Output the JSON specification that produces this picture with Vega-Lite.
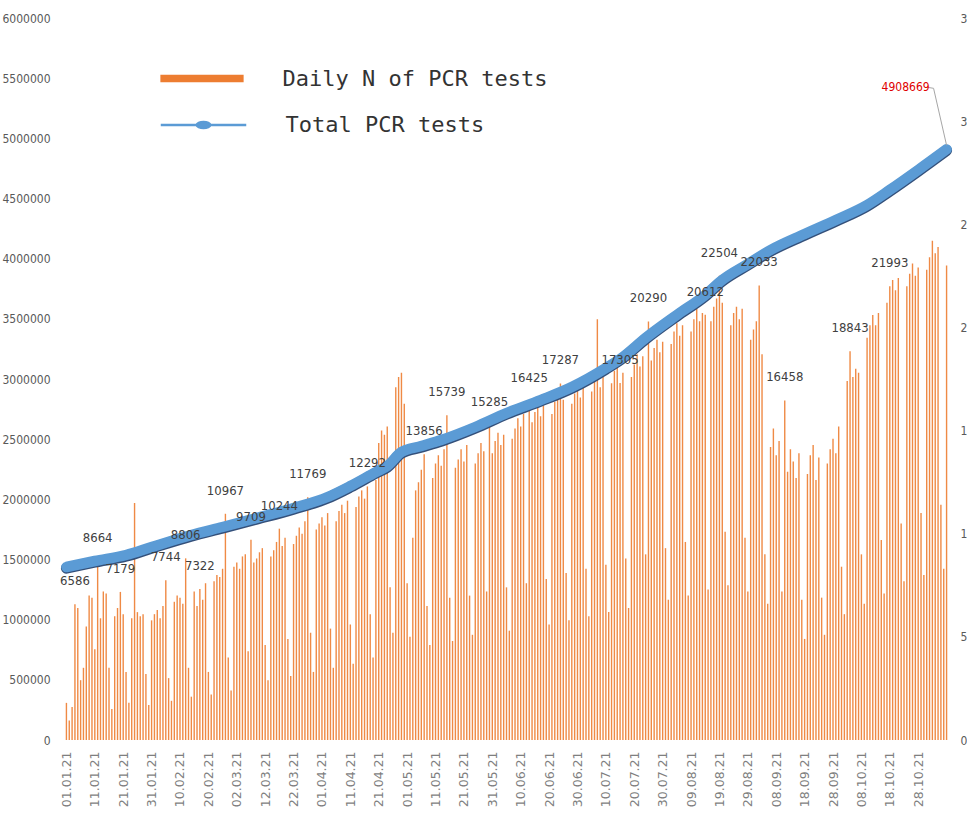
{
  "$schema": "https://vega.github.io/schema/vega-lite/v6.json",
  "width": 893,
  "height": 722,
  "autosize": "none",
  "padding": {"left": 60, "top": 18, "right": 14, "bottom": 89},
  "background": "white",
  "config": {
    "view": {"stroke": null},
    "axis": {"grid": false, "domain": false, "ticks": false, "labelColor": "#595959", "labelFont": "DejaVu Sans Condensed", "labelFontSize": 12, "title": null},
    "legend": {"orient": "none", "title": null, "padding": 0, "rowPadding": 0, "symbolSize": 2025, "labelOffset": 58, "labelFont": "DejaVu Sans Mono", "labelFontSize": 22, "labelColor": "#333333", "labelLimit": 700}
  },
  "datasets": {
    "daily": [
      {"d":"2021-01-01","v":1800},{"d":"2021-01-02","v":950},{"d":"2021-01-03","v":1600},{"d":"2021-01-04","v":6586,"lab":1},{"d":"2021-01-05","v":6400},{"d":"2021-01-06","v":2900},{"d":"2021-01-07","v":3500},{"d":"2021-01-08","v":5500},{"d":"2021-01-09","v":7000},{"d":"2021-01-10","v":6900},
      {"d":"2021-01-11","v":4400},{"d":"2021-01-12","v":8664,"lab":1},{"d":"2021-01-13","v":5900},{"d":"2021-01-14","v":7200},{"d":"2021-01-15","v":7100},{"d":"2021-01-16","v":3500},{"d":"2021-01-17","v":1500},{"d":"2021-01-18","v":6000},{"d":"2021-01-19","v":6400},{"d":"2021-01-20","v":7179,"lab":1},
      {"d":"2021-01-21","v":6100},{"d":"2021-01-22","v":3300},{"d":"2021-01-23","v":1800},{"d":"2021-01-24","v":5900},{"d":"2021-01-25","v":11490},{"d":"2021-01-26","v":6200},{"d":"2021-01-27","v":6000},{"d":"2021-01-28","v":6100},{"d":"2021-01-29","v":3200},{"d":"2021-01-30","v":1700},
      {"d":"2021-01-31","v":5800},
      {"d":"2021-02-01","v":6100},{"d":"2021-02-02","v":6300},{"d":"2021-02-03","v":5900},{"d":"2021-02-04","v":6500},{"d":"2021-02-05","v":7744,"lab":1},{"d":"2021-02-06","v":3000},{"d":"2021-02-07","v":1900},{"d":"2021-02-08","v":6700},{"d":"2021-02-09","v":7000},
      {"d":"2021-02-10","v":6900},{"d":"2021-02-11","v":6600},{"d":"2021-02-12","v":8806,"lab":1},{"d":"2021-02-13","v":3500},{"d":"2021-02-14","v":2100},{"d":"2021-02-15","v":7200},{"d":"2021-02-16","v":6500},{"d":"2021-02-17","v":7322,"lab":1},{"d":"2021-02-18","v":6800},{"d":"2021-02-19","v":7600},
      {"d":"2021-02-20","v":3300},{"d":"2021-02-21","v":2200},{"d":"2021-02-22","v":7700},{"d":"2021-02-23","v":8000},{"d":"2021-02-24","v":7900},{"d":"2021-02-25","v":8300},{"d":"2021-02-26","v":10967,"lab":1},{"d":"2021-02-27","v":4000},{"d":"2021-02-28","v":2400},
      {"d":"2021-03-01","v":8400},{"d":"2021-03-02","v":8600},{"d":"2021-03-03","v":8300},{"d":"2021-03-04","v":8900},{"d":"2021-03-05","v":9000},{"d":"2021-03-06","v":4300},{"d":"2021-03-07","v":9709,"lab":1},{"d":"2021-03-08","v":8600},{"d":"2021-03-09","v":8800},{"d":"2021-03-10","v":9100},
      {"d":"2021-03-11","v":9300},{"d":"2021-03-12","v":4600},{"d":"2021-03-13","v":2900},{"d":"2021-03-14","v":8900},{"d":"2021-03-15","v":9200},{"d":"2021-03-16","v":9600},{"d":"2021-03-17","v":10244,"lab":1},{"d":"2021-03-18","v":9400},{"d":"2021-03-19","v":9800},{"d":"2021-03-20","v":4900},
      {"d":"2021-03-21","v":3100},{"d":"2021-03-22","v":9500},{"d":"2021-03-23","v":9900},{"d":"2021-03-24","v":10300},{"d":"2021-03-25","v":10000},{"d":"2021-03-26","v":10600},{"d":"2021-03-27","v":11769,"lab":1},{"d":"2021-03-28","v":5200},{"d":"2021-03-29","v":3300},{"d":"2021-03-30","v":10200},{"d":"2021-03-31","v":10500},
      {"d":"2021-04-01","v":10800},{"d":"2021-04-02","v":10400},{"d":"2021-04-03","v":11000},{"d":"2021-04-04","v":5400},{"d":"2021-04-05","v":3500},{"d":"2021-04-06","v":10600},{"d":"2021-04-07","v":11100},{"d":"2021-04-08","v":11400},{"d":"2021-04-09","v":11000},{"d":"2021-04-10","v":11600},
      {"d":"2021-04-11","v":5600},{"d":"2021-04-12","v":3700},{"d":"2021-04-13","v":11300},{"d":"2021-04-14","v":11800},{"d":"2021-04-15","v":12100},{"d":"2021-04-16","v":11700},{"d":"2021-04-17","v":12292,"lab":1},{"d":"2021-04-18","v":6100},{"d":"2021-04-19","v":4000},{"d":"2021-04-20","v":12600},
      {"d":"2021-04-21","v":14400},{"d":"2021-04-22","v":15000},{"d":"2021-04-23","v":14800},{"d":"2021-04-24","v":15200},{"d":"2021-04-25","v":7400},{"d":"2021-04-26","v":5200},{"d":"2021-04-27","v":17100},{"d":"2021-04-28","v":17600},{"d":"2021-04-29","v":17800},{"d":"2021-04-30","v":16300},
      {"d":"2021-05-01","v":7600},{"d":"2021-05-02","v":5000},{"d":"2021-05-03","v":9800},{"d":"2021-05-04","v":12100},{"d":"2021-05-05","v":12500},{"d":"2021-05-06","v":13100},{"d":"2021-05-07","v":13856,"lab":1},{"d":"2021-05-08","v":6500},{"d":"2021-05-09","v":4600},{"d":"2021-05-10","v":12700},
      {"d":"2021-05-11","v":13400},{"d":"2021-05-12","v":13800},{"d":"2021-05-13","v":13300},{"d":"2021-05-14","v":14100},{"d":"2021-05-15","v":15739,"lab":1},{"d":"2021-05-16","v":6900},{"d":"2021-05-17","v":4800},{"d":"2021-05-18","v":13200},{"d":"2021-05-19","v":13600},{"d":"2021-05-20","v":14100},
      {"d":"2021-05-21","v":13500},{"d":"2021-05-22","v":14300},{"d":"2021-05-23","v":7000},{"d":"2021-05-24","v":5100},{"d":"2021-05-25","v":13400},{"d":"2021-05-26","v":13900},{"d":"2021-05-27","v":14400},{"d":"2021-05-28","v":14000},{"d":"2021-05-29","v":7200},{"d":"2021-05-30","v":15285,"lab":1},{"d":"2021-05-31","v":13900},
      {"d":"2021-06-01","v":14500},{"d":"2021-06-02","v":14900},{"d":"2021-06-03","v":14300},{"d":"2021-06-04","v":14800},{"d":"2021-06-05","v":7400},{"d":"2021-06-06","v":5300},{"d":"2021-06-07","v":14600},{"d":"2021-06-08","v":15100},{"d":"2021-06-09","v":15600},{"d":"2021-06-10","v":15200},
      {"d":"2021-06-11","v":15800},{"d":"2021-06-12","v":7600},{"d":"2021-06-13","v":16425,"lab":1},{"d":"2021-06-14","v":15400},{"d":"2021-06-15","v":15900},{"d":"2021-06-16","v":16300},{"d":"2021-06-17","v":15700},{"d":"2021-06-18","v":16200},{"d":"2021-06-19","v":7800},{"d":"2021-06-20","v":5600},
      {"d":"2021-06-21","v":15800},{"d":"2021-06-22","v":16400},{"d":"2021-06-23","v":16900},{"d":"2021-06-24","v":17287,"lab":1},{"d":"2021-06-25","v":16500},{"d":"2021-06-26","v":8100},{"d":"2021-06-27","v":5800},{"d":"2021-06-28","v":16300},{"d":"2021-06-29","v":16800},{"d":"2021-06-30","v":17200},
      {"d":"2021-07-01","v":16600},{"d":"2021-07-02","v":17100},{"d":"2021-07-03","v":8300},{"d":"2021-07-04","v":6000},{"d":"2021-07-05","v":16900},{"d":"2021-07-06","v":17500},{"d":"2021-07-07","v":20400},{"d":"2021-07-08","v":17100},{"d":"2021-07-09","v":17600},{"d":"2021-07-10","v":8500},
      {"d":"2021-07-11","v":6200},{"d":"2021-07-12","v":17300},{"d":"2021-07-13","v":17900},{"d":"2021-07-14","v":18300},{"d":"2021-07-15","v":17305,"lab":1},{"d":"2021-07-16","v":17800},{"d":"2021-07-17","v":8800},{"d":"2021-07-18","v":6400},{"d":"2021-07-19","v":17600},{"d":"2021-07-20","v":18200},
      {"d":"2021-07-21","v":18700},{"d":"2021-07-22","v":18100},{"d":"2021-07-23","v":18600},{"d":"2021-07-24","v":9000},{"d":"2021-07-25","v":20290,"lab":1},{"d":"2021-07-26","v":18400},{"d":"2021-07-27","v":19000},{"d":"2021-07-28","v":19400},{"d":"2021-07-29","v":18800},{"d":"2021-07-30","v":19300},{"d":"2021-07-31","v":9300},
      {"d":"2021-08-01","v":6800},{"d":"2021-08-02","v":19200},{"d":"2021-08-03","v":19800},{"d":"2021-08-04","v":20200},{"d":"2021-08-05","v":19600},{"d":"2021-08-06","v":20100},{"d":"2021-08-07","v":9600},{"d":"2021-08-08","v":7000},{"d":"2021-08-09","v":19800},{"d":"2021-08-10","v":20400},
      {"d":"2021-08-11","v":20900},{"d":"2021-08-12","v":20300},{"d":"2021-08-13","v":20700},{"d":"2021-08-14","v":20612,"lab":1},{"d":"2021-08-15","v":7300},{"d":"2021-08-16","v":20300},{"d":"2021-08-17","v":21000},{"d":"2021-08-18","v":21400},{"d":"2021-08-19","v":22504,"lab":1},{"d":"2021-08-20","v":21200},
      {"d":"2021-08-21","v":10100},{"d":"2021-08-22","v":7500},{"d":"2021-08-23","v":20100},{"d":"2021-08-24","v":20700},{"d":"2021-08-25","v":21000},{"d":"2021-08-26","v":20400},{"d":"2021-08-27","v":20900},{"d":"2021-08-28","v":9800},{"d":"2021-08-29","v":7200},{"d":"2021-08-30","v":19400},{"d":"2021-08-31","v":19900},
      {"d":"2021-09-01","v":20300},{"d":"2021-09-02","v":22033,"lab":1},{"d":"2021-09-03","v":18700},{"d":"2021-09-04","v":9000},{"d":"2021-09-05","v":6600},{"d":"2021-09-06","v":14200},{"d":"2021-09-07","v":15100},{"d":"2021-09-08","v":13800},{"d":"2021-09-09","v":14500},{"d":"2021-09-10","v":7200},
      {"d":"2021-09-11","v":16458,"lab":1},{"d":"2021-09-12","v":13000},{"d":"2021-09-13","v":14100},{"d":"2021-09-14","v":13500},{"d":"2021-09-15","v":12700},{"d":"2021-09-16","v":13900},{"d":"2021-09-17","v":6800},{"d":"2021-09-18","v":4900},{"d":"2021-09-19","v":12900},{"d":"2021-09-20","v":13800},
      {"d":"2021-09-21","v":14300},{"d":"2021-09-22","v":12600},{"d":"2021-09-23","v":13700},{"d":"2021-09-24","v":6900},{"d":"2021-09-25","v":5100},{"d":"2021-09-26","v":13400},{"d":"2021-09-27","v":14100},{"d":"2021-09-28","v":14600},{"d":"2021-09-29","v":13900},{"d":"2021-09-30","v":15200},
      {"d":"2021-10-01","v":8400},{"d":"2021-10-02","v":6100},{"d":"2021-10-03","v":17400},{"d":"2021-10-04","v":18843,"lab":1},{"d":"2021-10-05","v":17600},{"d":"2021-10-06","v":18000},{"d":"2021-10-07","v":17800},{"d":"2021-10-08","v":9000},{"d":"2021-10-09","v":6600},{"d":"2021-10-10","v":19500},
      {"d":"2021-10-11","v":20100},{"d":"2021-10-12","v":20600},{"d":"2021-10-13","v":20100},{"d":"2021-10-14","v":20700},{"d":"2021-10-15","v":9700},{"d":"2021-10-16","v":7100},{"d":"2021-10-17","v":21200},{"d":"2021-10-18","v":21993,"lab":1},{"d":"2021-10-19","v":22300},{"d":"2021-10-20","v":21800},
      {"d":"2021-10-21","v":22400},{"d":"2021-10-22","v":10500},{"d":"2021-10-23","v":7700},{"d":"2021-10-24","v":22000},{"d":"2021-10-25","v":22600},{"d":"2021-10-26","v":23100},{"d":"2021-10-27","v":22500},{"d":"2021-10-28","v":22900},{"d":"2021-10-29","v":11000},{"d":"2021-10-30","v":8000},{"d":"2021-10-31","v":22800},
      {"d":"2021-11-01","v":23400},{"d":"2021-11-02","v":24200},{"d":"2021-11-03","v":23600},{"d":"2021-11-04","v":23900},{"d":"2021-11-05","v":11400},{"d":"2021-11-06","v":8300},{"d":"2021-11-07","v":23000}
    ],
    "total": [
      {"d":"2021-01-01","t":1437600},{"d":"2021-01-11","t":1487500},{"d":"2021-01-22","t":1537300},{"d":"2021-01-31","t":1603800},
      {"d":"2021-02-14","t":1703500},{"d":"2021-02-25","t":1770000},{"d":"2021-03-09","t":1844800},{"d":"2021-03-22","t":1928000},
      {"d":"2021-04-03","t":2019300},{"d":"2021-04-11","t":2110700},{"d":"2021-04-20","t":2227000},{"d":"2021-04-24","t":2277000},
      {"d":"2021-04-29","t":2393000},{"d":"2021-05-06","t":2443000},{"d":"2021-05-13","t":2493000},{"d":"2021-05-25","t":2601000},
      {"d":"2021-06-05","t":2717000},{"d":"2021-06-17","t":2825000},{"d":"2021-06-28","t":2933000},{"d":"2021-07-10","t":3091000},
      {"d":"2021-07-16","t":3183000},{"d":"2021-07-24","t":3341000},{"d":"2021-08-04","t":3532000},{"d":"2021-08-14","t":3698000},
      {"d":"2021-08-20","t":3823000},{"d":"2021-08-29","t":3956000},{"d":"2021-09-06","t":4072000},{"d":"2021-09-18","t":4205000},
      {"d":"2021-09-29","t":4321000},{"d":"2021-10-10","t":4446000},{"d":"2021-10-18","t":4571000},{"d":"2021-10-28","t":4737000},
      {"d":"2021-11-07","t":4908669}
    ],
    "last": [{"d":"2021-11-07","t":4908669}]
  },
  "encoding": {
    "x": {"field": "d", "type": "temporal", "scale": {"type": "utc", "domain": [1609416000000, 1636286400000]},
      "axis": {"values": [
        {"year":2021,"month":1,"date":1,"utc":true},{"year":2021,"month":1,"date":11,"utc":true},{"year":2021,"month":1,"date":21,"utc":true},{"year":2021,"month":1,"date":31,"utc":true},
        {"year":2021,"month":2,"date":10,"utc":true},{"year":2021,"month":2,"date":20,"utc":true},{"year":2021,"month":3,"date":2,"utc":true},{"year":2021,"month":3,"date":12,"utc":true},
        {"year":2021,"month":3,"date":22,"utc":true},{"year":2021,"month":4,"date":1,"utc":true},{"year":2021,"month":4,"date":11,"utc":true},{"year":2021,"month":4,"date":21,"utc":true},
        {"year":2021,"month":5,"date":1,"utc":true},{"year":2021,"month":5,"date":11,"utc":true},{"year":2021,"month":5,"date":21,"utc":true},{"year":2021,"month":5,"date":31,"utc":true},
        {"year":2021,"month":6,"date":10,"utc":true},{"year":2021,"month":6,"date":20,"utc":true},{"year":2021,"month":6,"date":30,"utc":true},{"year":2021,"month":7,"date":10,"utc":true},
        {"year":2021,"month":7,"date":20,"utc":true},{"year":2021,"month":7,"date":30,"utc":true},{"year":2021,"month":8,"date":9,"utc":true},{"year":2021,"month":8,"date":19,"utc":true},
        {"year":2021,"month":8,"date":29,"utc":true},{"year":2021,"month":9,"date":8,"utc":true},{"year":2021,"month":9,"date":18,"utc":true},{"year":2021,"month":9,"date":28,"utc":true},
        {"year":2021,"month":10,"date":8,"utc":true},{"year":2021,"month":10,"date":18,"utc":true},{"year":2021,"month":10,"date":28,"utc":true}],
        "labelExpr": "utcFormat(datum.value, '%d.%m.%y')", "labelAngle": -90, "labelPadding": 11, "labelFont": "DejaVu Sans", "labelFontSize": 12.5, "labelColor": "#7f7f7f", "labelFlush": false, "labelOverlap": false}}
  },
  "layer": [
    {
      "encoding": {
        "y": {"field": "v", "type": "quantitative", "scale": {"domain": [0, 35000], "nice": false},
          "axis": {"orient": "right", "values": [0, 5000, 10000, 15000, 20000, 25000, 30000, 35000], "format": "d", "labelPadding": 7}}
      },
      "layer": [
        {
          "data": {"name": "daily"},
          "mark": {"type": "bar", "width": 1.4, "opacity": 0.9},
          "encoding": {
            "color": {"datum": "Daily N of PCR tests", "type": "nominal", "scale": {"range": ["#ED7D31"]},
              "legend": {"legendX": 119.5, "legendY": 38, "symbolType": "M-1.85,-0.17H1.85V0.17H-1.85Z", "symbolStrokeWidth": 0, "symbolOpacity": 1}}
          }
        }
      ]
    },
    {
      "encoding": {
        "y": {"field": "t", "type": "quantitative", "scale": {"domain": [0, 6000000], "nice": false},
          "axis": {"orient": "left", "values": [0, 500000, 1000000, 1500000, 2000000, 2500000, 3000000, 3500000, 4000000, 4500000, 5000000, 5500000, 6000000], "format": "d", "labelPadding": 10}}
      },
      "layer": [
        {
          "data": {"name": "total"},
          "mark": {"type": "line", "strokeWidth": 11, "color": "#34507a", "yOffset": 1.2, "strokeCap": "round", "strokeJoin": "round", "interpolate": "monotone"},
          "encoding": {}
        },
        {
          "data": {"name": "total"},
          "mark": {"type": "line", "strokeWidth": 10.5, "strokeCap": "round", "strokeJoin": "round", "interpolate": "monotone"},
          "encoding": {
            "stroke": {"datum": "Total PCR tests", "type": "nominal", "scale": {"range": ["#5B9BD5"]},
              "legend": {"legendX": 119.5, "legendY": 83, "symbolType": "M-1.9,0H1.9M-0.3,0A0.3,0.13 0 1,0 0.3,0A0.3,0.13 0 1,0 -0.3,0Z", "symbolStrokeWidth": 2.5, "symbolFillColor": "#5B9BD5"}}
          }
        },
        {
          "data": {"name": "last"},
          "mark": {"type": "rule", "color": "#a6a6a6", "strokeWidth": 1, "xOffset": -13, "yOffset": -61, "x2Offset": 0, "y2Offset": -4},
          "encoding": {"x2": {"field": "d"}, "y2": {"field": "t"}}
        },
        {
          "data": {"name": "last"},
          "mark": {"type": "rule", "color": "#a6a6a6", "strokeWidth": 1, "xOffset": -19, "yOffset": -62, "x2Offset": -13, "y2Offset": -61},
          "encoding": {"x2": {"field": "d"}, "y2": {"field": "t"}}
        },
        {
          "data": {"name": "last"},
          "mark": {"type": "text", "dx": -41, "dy": -62, "baseline": "middle", "align": "center", "font": "DejaVu Sans Condensed", "fontSize": 12, "color": "#e00000"},
          "encoding": {
            "text": {"field": "t", "type": "quantitative", "format": "d"}
          }
        }
      ]
    },
    {
      "data": {"name": "daily"},
      "transform": [{"filter": "datum.lab == 1"}],
      "mark": {"type": "text", "dy": -23, "baseline": "middle", "align": "center", "font": "DejaVu Sans Condensed", "fontSize": 13, "color": "#404040"},
      "encoding": {
        "y": {"field": "v", "type": "quantitative", "scale": {"domain": [0, 35000], "nice": false}, "axis": null},
        "text": {"field": "v", "type": "quantitative", "format": "d"}
      }
    }
  ],
  "resolve": {"scale": {"y": "independent"}, "axis": {"y": "independent"}}
}
